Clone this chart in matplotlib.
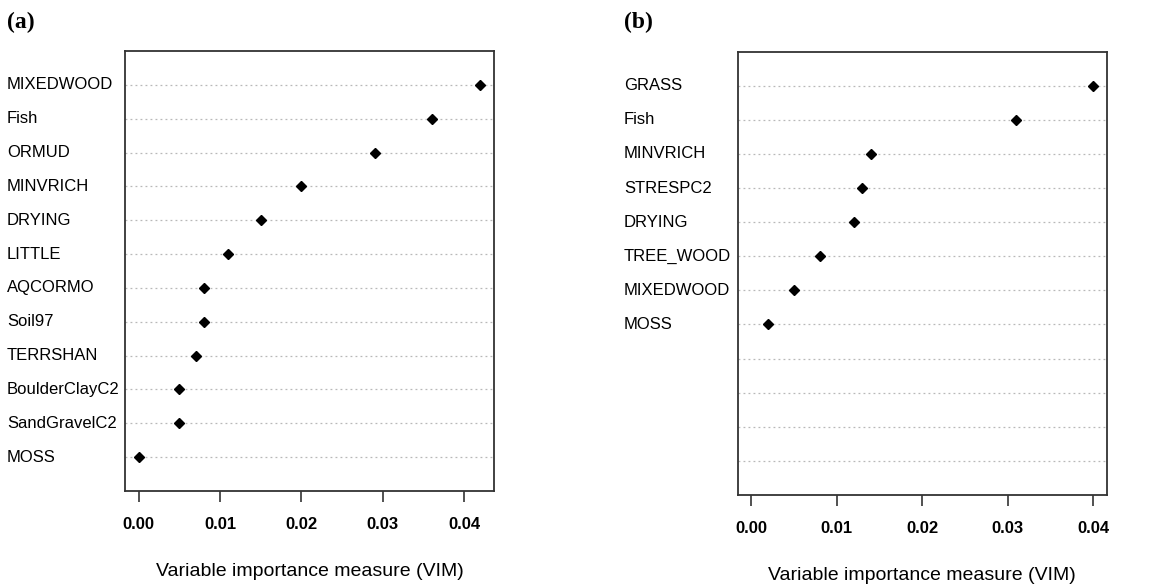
import matplotlib.pyplot as plt
import matplotlib.transforms as mtransforms

# panel (a)
labels_a = ['MIXEDWOOD', 'Fish', 'ORMUD', 'MINVRICH', 'DRYING', 'LITTLE',
            'AQCORMO', 'Soil97', 'TERRSHAN', 'BoulderClayC2', 'SandGravelC2', 'MOSS']
vim_a = [0.042, 0.036, 0.029, 0.020, 0.015, 0.011, 0.008, 0.008, 0.007, 0.005, 0.005, 0.000]

# panel (b): 12 rows, only 8 labelled
labels_b = ['GRASS', 'Fish', 'MINVRICH', 'STRESPC2', 'DRYING', 'TREE_WOOD', 'MIXEDWOOD', 'MOSS']
vim_b = [0.040, 0.031, 0.014, 0.013, 0.012, 0.008, 0.005, 0.002]
n_rows_b = 12

xticks = [0.00, 0.01, 0.02, 0.03, 0.04]
xlabel = 'Variable importance measure (VIM)'

plt.rcParams['font.family'] = ['Liberation Sans', 'DejaVu Sans']

fig = plt.figure(figsize=(11.75, 5.84), dpi=100)


def dotchart(rect, labels, values, n_rows, xlim, label_x, panel, panel_x):
    ax = fig.add_axes(rect)
    rows = list(range(n_rows, 0, -1))  # top row = n_rows
    for r in rows:
        ax.axhline(r, color='#b8b8b8', lw=0.9, ls=(0, (1.5, 2.5)), zorder=1)
    ax.plot(values, rows[:len(values)], 'D', color='black', markersize=5, zorder=3,
            linestyle='none')
    ax.set_xlim(*xlim)
    ax.set_ylim(0, n_rows + 1)
    ax.set_yticks([])
    ax.set_xticks(xticks)
    ax.set_xticklabels(['%.2f' % t for t in xticks], fontsize=12, fontweight='bold')
    ax.tick_params(axis='x', direction='out', length=8, width=1.2, pad=11, color='#333333')
    for s in ax.spines.values():
        s.set_linewidth(1.3)
        s.set_color('#333333')
    ax.set_xlabel(xlabel, fontsize=14, labelpad=22)
    trans = mtransforms.blended_transform_factory(fig.transFigure, ax.transData)
    for lab, r in zip(labels, rows):
        ax.text(label_x, r, lab, transform=trans, ha='left', va='center', fontsize=12)
    fig.text(panel_x, 0.962, panel, fontsize=17, fontweight='bold',
             family='Liberation Serif', ha='left', va='center')
    return ax


dotchart([0.1064, 0.1592, 0.314, 0.7535], labels_a, vim_a, len(labels_a),
         (-0.00168, 0.04368), 0.006, '(a)', 0.006)
dotchart([0.6278, 0.1524, 0.3143, 0.7591], labels_b, vim_b, n_rows_b,
         (-0.0016, 0.0416), 0.531, '(b)', 0.531)

plt.savefig('out.png', dpi=100)
